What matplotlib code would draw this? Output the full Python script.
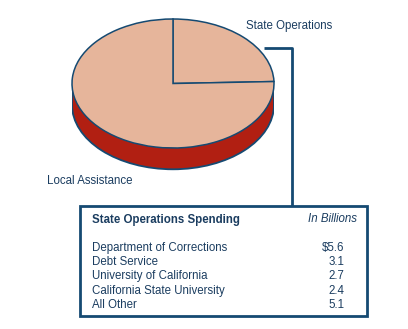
import matplotlib
matplotlib.use("Agg")
import matplotlib.pyplot as plt
from matplotlib.patches import Rectangle, Ellipse, Arc

plt.rcParams['font.family'] = ['Liberation Sans', 'DejaVu Sans']

# spending split, billions
pie_labels = ["State Operations", "Local Assistance"]
pie_values = [18.9, 58.2]

table_title = "State Operations Spending"
table_units = "In Billions"
items = ["Department of Corrections", "Debt Service", "University of California",
         "California State University", "All Other"]
amounts = [5.6, 3.1, 2.7, 2.4, 5.1]

navy = "#154a72"
text_col = "#1b3d60"
top_col = "#e6b59b"
side_col = "#b11f12"

W, H = 408, 329
fig = plt.figure(figsize=(W / 100, H / 100), dpi=100)

# pixel-space axes for labels, connector and table
ax = fig.add_axes([0, 0, 1, 1])
ax.set_xlim(0, W)
ax.set_ylim(H, 0)
ax.axis("off")

# pie axes: unit circle squashed into an ellipse, with room for the rim
left, right, top, bottom = 72, 274, 19, 148
depth = 0.33
unit = (bottom - top) / 2
pie_bottom_px = bottom + (depth + 0.08) * unit
pax = fig.add_axes([left / W, 1 - pie_bottom_px / H, (right - left) / W, (pie_bottom_px - top) / H])
pax.axis("off")

# rim
pax.add_patch(Ellipse((0, -depth), 2, 2, facecolor=side_col, edgecolor="none", zorder=1))
pax.add_patch(Rectangle((-1, -depth), 2, depth, facecolor=side_col, edgecolor="none", zorder=1))
pax.add_patch(Arc((0, -depth), 2, 2, theta1=180, theta2=360, color=navy, lw=1.3, zorder=2))
pax.plot([-1, -1], [0, -depth], color=navy, lw=1.3, zorder=2)
pax.plot([1, 1], [0, -depth], color=navy, lw=1.3, zorder=2)

wedges, _ = pax.pie(pie_values, startangle=90, counterclock=False,
                    colors=[top_col, top_col],
                    wedgeprops=dict(edgecolor=navy, linewidth=1.1))
for w in wedges:
    w.set_zorder(3)
pax.set_aspect("auto")
pax.set_xlim(-1, 1)
pax.set_ylim(-1 - depth - 0.08, 1)

fs = 8.3
ax.text(246, 25.5, pie_labels[0], color=text_col, fontsize=fs, va="center", ha="left")
ax.text(47, 181, pie_labels[1], color=text_col, fontsize=fs, va="center", ha="left")

# connector from the slice to the table
ax.plot([264, 292, 292], [48, 48, 206], color=navy, lw=2, solid_capstyle="butt")

# table box
ax.add_patch(Rectangle((80, 206), 287, 110, facecolor="white", edgecolor=navy, lw=2))
ax.text(92, 219.5, table_title, color=text_col, fontsize=fs, fontweight="bold", va="center")
ax.text(357, 219.5, table_units, color=text_col, fontsize=fs, style="italic", va="center", ha="right")

y0, step = 248, 14.2
for i, (name, amt) in enumerate(zip(items, amounts)):
    y = y0 + i * step
    ax.text(92, y, name, color=text_col, fontsize=fs, va="center")
    val = rf"\${amt:.1f}" if i == 0 else f"{amt:.1f}"
    ax.text(344, y, val, color=text_col, fontsize=fs, va="center", ha="right")

fig.savefig("out.png", dpi=100)
